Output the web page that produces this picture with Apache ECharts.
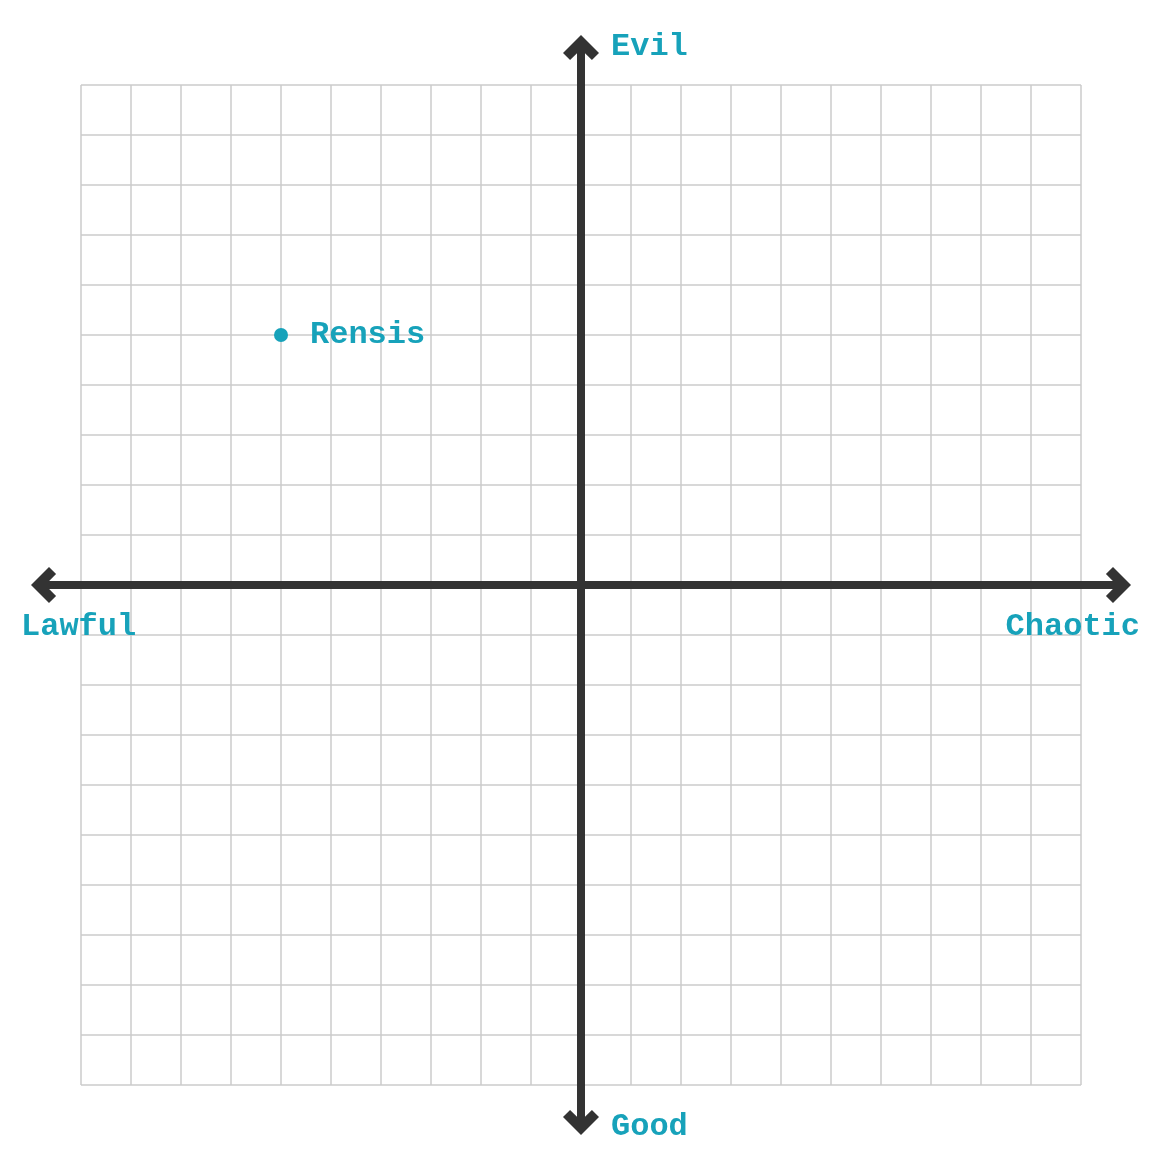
<!DOCTYPE html>
<html><head><meta charset="utf-8">
<script src="https://cdn.jsdelivr.net/npm/echarts@6/dist/echarts.min.js"></script>
<style>html,body{margin:0;padding:0;background:#fff}#c{width:1162px;height:1169px}</style>
</head><body><div id="c"></div>
<script>
const names = ["Rensis"];
const xValues = [-6];   // Lawful (-) ... Chaotic (+)
const yValues = [5];    // Good (-) ... Evil (+)
const axisMin = -10, axisMax = 10, axisStep = 1;
const axisTitles = { top: "Evil", bottom: "Good", left: "Lawful", right: "Chaotic" };

const teal = "#17a2ba";
const dark = "#333333";
const font = "'Liberation Mono', 'DejaVu Sans Mono', monospace";
const arrowPath = "path://M18 0 L36 18 L28.93 25.07 L22 18.14 L22 28 L14 28 L14 18.14 L7.07 25.07 L0 18 Z";

const chart = echarts.init(document.getElementById('c'), null, {renderer: 'canvas'});
const axisLineOpt = {
  show: true, onZero: true,
  symbol: [arrowPath, arrowPath], symbolSize: [36, 28],
  lineStyle: {color: dark, width: 8, cap: 'butt'}
};
const titleFont = "bold 32px " + font;
chart.setOption({
  animation: false,
  backgroundColor: '#fff',
  grid: [
    {left: 81, top: 85, width: 1000, height: 1000, containLabel: false},
    {left: 45, top: 49, width: 1072, height: 1072, containLabel: false}
  ],
  xAxis: [
    {type: 'value', gridIndex: 0, min: axisMin, max: axisMax, interval: axisStep,
     axisLine: {show: false}, axisTick: {show: false}, axisLabel: {show: false},
     splitLine: {show: true, lineStyle: {color: '#cbcbcb', width: 1.5}}},
    {type: 'value', gridIndex: 1, min: -1, max: 1,
     axisLine: axisLineOpt, axisTick: {show: false}, axisLabel: {show: false}, splitLine: {show: false}}
  ],
  yAxis: [
    {type: 'value', gridIndex: 0, min: axisMin, max: axisMax, interval: axisStep,
     axisLine: {show: false}, axisTick: {show: false}, axisLabel: {show: false},
     splitLine: {show: true, lineStyle: {color: '#cbcbcb', width: 1.5}}},
    {type: 'value', gridIndex: 1, min: -1, max: 1,
     axisLine: axisLineOpt, axisTick: {show: false}, axisLabel: {show: false}, splitLine: {show: false}}
  ],
  series: [{
    type: 'scatter', xAxisIndex: 0, yAxisIndex: 0,
    symbol: 'circle', symbolSize: 14, z: 20,
    itemStyle: {color: teal, opacity: 1},
    label: {show: true, position: 'right', distance: 22, formatter: p => p.name,
      color: teal, fontFamily: font, fontWeight: 'bold', fontSize: 32},
    emphasis: {disabled: true},
    data: names.map((n, i) => ({name: n, value: [xValues[i], yValues[i]]}))
  }],
  graphic: [
    {type: 'text', z: 100, left: 611, top: 31, style: {text: axisTitles.top, fill: teal, font: titleFont}},
    {type: 'text', z: 100, left: 611, top: 1111, style: {text: axisTitles.bottom, fill: teal, font: titleFont}},
    {type: 'text', z: 100, left: 21, top: 611, style: {text: axisTitles.left, fill: teal, font: titleFont}},
    {type: 'text', z: 100, right: 22, top: 611, style: {text: axisTitles.right, fill: teal, font: titleFont}}
  ]
});
</script></body></html>
